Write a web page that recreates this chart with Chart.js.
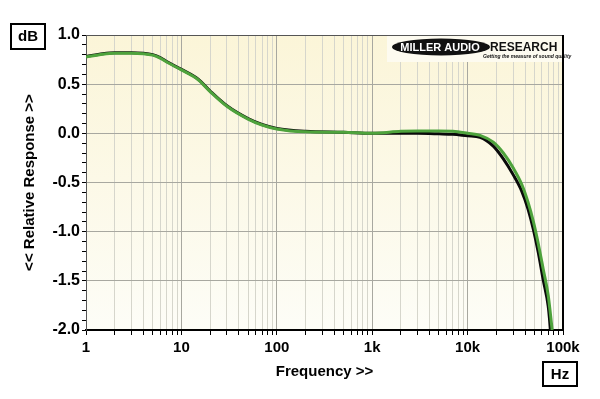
<!DOCTYPE html>
<html>
<head>
<meta charset="utf-8">
<script src="https://cdn.jsdelivr.net/npm/chart.js@4/dist/chart.umd.min.js"></script>
<style>
  html, body { margin: 0; padding: 0; background: #ffffff; }
  #wrap { width: 600px; height: 399px; position: relative; }
</style>
</head>
<body>
<div id="wrap"><canvas id="resp"></canvas></div>
<script>
// Frequency response data (Hz / dB)
const freqBlack = [1, 1.5, 2, 3, 4, 5, 6, 7, 10, 15, 20, 30, 50, 70, 100, 200, 500, 1000, 2000, 3000, 5000, 7000, 10000, 13500, 18600, 23700, 30000, 37000, 43000, 49000, 55000, 62000, 70000, 74000];
const dbBlack = [0.78, 0.81, 0.82, 0.82, 0.815, 0.8, 0.77, 0.73, 0.65, 0.55, 0.43, 0.28, 0.15, 0.09, 0.05, 0.02, 0.01, 0.0, 0.0, 0.0, -0.005, -0.01, -0.025, -0.04, -0.13, -0.26, -0.42, -0.59, -0.77, -0.98, -1.21, -1.49, -1.76, -2.0];

const freqGreen = [1, 1.5, 2, 3, 4, 5, 6, 7, 10, 15, 20, 30, 50, 70, 100, 200, 500, 1000, 2000, 3000, 5000, 7000, 10000, 13500, 18600, 23700, 30000, 37000, 43000, 49000, 55000, 62000, 70000, 77000];
const dbGreen = [0.775, 0.805, 0.815, 0.815, 0.81, 0.795, 0.765, 0.725, 0.645, 0.545, 0.425, 0.275, 0.145, 0.085, 0.045, 0.015, 0.01, 0.0, 0.02, 0.025, 0.025, 0.02, 0.0, -0.02, -0.09, -0.2, -0.35, -0.52, -0.7, -0.9, -1.12, -1.38, -1.65, -2.0];

const decadeTicks = [1, 10, 100, 1000, 10000, 100000];
const decadeLabels = ['1', '10', '100', '1k', '10k', '100k'];

const FONT = 'Liberation Sans, Arial, sans-serif';

function toPoints(xs, ys) {
    return xs.map((x, i) => ({ x: x, y: ys[i] }));
}

function isDecade(v) {
    return decadeTicks.some(d => Math.abs(v - d) < 1e-6 * d);
}

function isHalf(v) {
    return Math.abs(v * 2 - Math.round(v * 2)) < 1e-6;
}

// background, frame, logo and the unit boxes
const decor = {
    id: 'decor',
    beforeDraw(chart) {
        const { ctx, chartArea: a } = chart;
        const g = ctx.createLinearGradient(0, a.top, 0, a.bottom);
        g.addColorStop(0, '#fbf5d8');
        g.addColorStop(1, '#fdfdf7');
        ctx.save();
        ctx.fillStyle = g;
        ctx.fillRect(a.left, a.top, a.right - a.left, a.bottom - a.top);
        ctx.restore();
    },
    beforeDatasetsDraw(chart) {
        const { ctx, chartArea: a } = chart;
        ctx.save();
        // logo panel
        ctx.fillStyle = '#fdfbf0';
        ctx.fillRect(a.right - 176, a.top + 1, 175, 26);
        ctx.fillStyle = '#111';
        ctx.beginPath();
        ctx.ellipse(a.right - 122, a.top + 12, 49, 8.5, 0, 0, Math.PI * 2);
        ctx.fill();
        ctx.font = 'bold 11px ' + FONT;
        ctx.textBaseline = 'middle';
        ctx.textAlign = 'center';
        ctx.fillStyle = '#fff';
        ctx.fillText('MILLER AUDIO', a.right - 123, a.top + 12.5);
        ctx.fillStyle = '#111';
        ctx.textAlign = 'left';
        ctx.font = 'bold 12px ' + FONT;
        ctx.fillText('RESEARCH', a.right - 73, a.top + 12.5);
        ctx.font = 'italic bold 5px ' + FONT;
        ctx.fillText('Getting the measure of sound quality', a.right - 80, a.top + 22);
        ctx.restore();
    },
    afterDraw(chart) {
        const { ctx, chartArea: a } = chart;
        ctx.save();
        // frame: thin top, heavy right
        ctx.strokeStyle = '#555';
        ctx.lineWidth = 1;
        ctx.beginPath();
        ctx.moveTo(a.left, a.top + 0.5);
        ctx.lineTo(a.right, a.top + 0.5);
        ctx.stroke();
        ctx.strokeStyle = '#000';
        ctx.lineWidth = 2;
        ctx.beginPath();
        ctx.moveTo(a.right, a.top);
        ctx.lineTo(a.right, a.bottom);
        ctx.stroke();

        // unit boxes
        ctx.lineWidth = 2;
        ctx.strokeRect(11, 24, 34, 25);
        ctx.strokeRect(543, 362, 34, 24);
        ctx.fillStyle = '#000';
        ctx.font = 'bold 15px ' + FONT;
        ctx.textAlign = 'center';
        ctx.textBaseline = 'middle';
        ctx.fillText('dB', 28, 37);
        ctx.fillText('Hz', 560, 375);
        ctx.restore();
    }
};

const chart = new Chart(document.getElementById('resp'), {
    type: 'line',
    data: {
        datasets: [{
            label: 'Green',
            data: toPoints(freqGreen, dbGreen),
            borderColor: '#4ea33c',
            borderWidth: 3,
            pointRadius: 0,
            cubicInterpolationMode: 'monotone',
            fill: false
        }, {
            label: 'Black',
            data: toPoints(freqBlack, dbBlack),
            borderColor: '#0a0a0a',
            borderWidth: 3,
            pointRadius: 0,
            cubicInterpolationMode: 'monotone',
            fill: false
        }]
    },
    options: {
        responsive: true,
        maintainAspectRatio: false,
        animation: false,
        layout: {
            padding: { top: 35, right: 37, bottom: 0, left: 0 }
        },
        plugins: {
            legend: { display: false },
            tooltip: { enabled: false }
        },
        scales: {
            x: {
                type: 'logarithmic',
                min: 1,
                max: 100000,
                afterBuildTicks(scale) {
                    const t = [];
                    for (let d = 1; d <= 10000; d *= 10) {
                        for (let m = 1; m < 10; m++) t.push({ value: d * m });
                    }
                    t.push({ value: 100000 });
                    scale.ticks = t;
                },
                afterFit(scale) {
                    scale.height = 69;
                },
                grid: {
                    color: ctx => isDecade(ctx.tick.value) ? '#a8a8a0' : '#d6d6cc',
                    tickColor: '#000',
                    tickLength: 5,
                    drawOnChartArea: true
                },
                border: { color: '#000', width: 2 },
                ticks: {
                    autoSkip: false,
                    maxRotation: 0,
                    padding: 4,
                    color: '#000',
                    font: { family: FONT, size: 15, weight: 'bold' },
                    callback(v) {
                        const i = decadeTicks.findIndex(d => Math.abs(v - d) < 1e-6 * d);
                        return i >= 0 ? decadeLabels[i] : '';
                    }
                },
                title: {
                    display: true,
                    text: 'Frequency >>',
                    color: '#000',
                    font: { family: FONT, size: 15, weight: 'bold' },
                    padding: { top: 0, bottom: 18 }
                }
            },
            y: {
                min: -2,
                max: 1,
                afterFit(scale) {
                    scale.width = 86;
                },
                grid: {
                    color: ctx => isHalf(ctx.tick.value) ? '#a8a8a0' : 'rgba(0,0,0,0)',
                    tickColor: '#000',
                    tickLength: 4
                },
                border: { color: '#555', width: 1 },
                ticks: {
                    stepSize: 0.1,
                    autoSkip: false,
                    padding: 2,
                    color: '#000',
                    font: { family: FONT, size: 16, weight: 'bold' },
                    callback(v) {
                        return isHalf(v) ? v.toFixed(1) : '';
                    }
                },
                title: {
                    display: true,
                    text: '<< Relative Response >>',
                    color: '#000',
                    font: { family: FONT, size: 15, weight: 'bold' },
                    padding: { top: 21, bottom: 21 }
                }
            }
        }
    },
    plugins: [decor]
});
</script>
</body>
</html>
